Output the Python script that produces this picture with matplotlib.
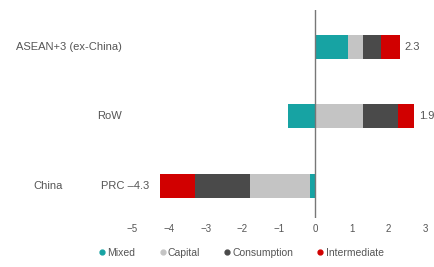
import numpy as np
import matplotlib
matplotlib.use('Agg')
import matplotlib.pyplot as plt
from matplotlib.lines import Line2D

plt.rcParams['font.family'] = ['Liberation Sans', 'DejaVu Sans']
plt.rcParams['axes.unicode_minus'] = True

# datos (de abajo hacia arriba)
regiones = ['PRC', 'RoW', 'ASEAN+3 (ex-China)']
componentes = ['Mixed', 'Capital', 'Consumption', 'Intermediate']
mixed = [-0.15, -0.75, 0.9]
capital = [-1.65, 1.3, 0.4]
consumption = [-1.5, 0.95, 0.5]
intermediate = [-0.95, 0.45, 0.5]
totales = [-4.3, 1.9, 2.3]

colores = ['#17a3a3', '#c4c4c4', '#4a4a4a', '#d10000']
gris_txt = '#555555'

fig = plt.figure(figsize=(4.34, 2.67), dpi=100)
ax = fig.add_axes([0, 0.1835, 1, 0.779])

y = np.arange(len(regiones))
pos = np.zeros(len(regiones))
neg = np.zeros(len(regiones))
for serie, col in zip([mixed, capital, consumption, intermediate], colores):
    v = np.array(serie)
    base = np.where(v >= 0, pos, neg)
    ax.barh(y, v, left=base, height=0.345, color=col, zorder=2)
    pos = pos + np.where(v >= 0, v, 0)
    neg = neg + np.where(v < 0, v, 0)

ax.axvline(0, color='#777777', lw=1.0, zorder=3)

ax.set_xlim(-8.62, 3.24)
ax.set_ylim(-0.46, 2.53)
ax.set_xticks(range(-5, 4))
ax.set_yticks([])
ax.tick_params(axis='x', length=0, pad=4, labelsize=7, labelcolor=gris_txt)
for s in ax.spines.values():
    s.set_visible(False)

# etiquetas de filas
fs = 8
ax.text(-5.3, 2, 'ASEAN+3 (ex-China)', ha='right', va='center', fontsize=fs, color=gris_txt)
ax.text(-5.3, 1, 'RoW', ha='right', va='center', fontsize=fs, color=gris_txt)
ax.text(-7.31, 0, 'China', ha='center', va='center', fontsize=fs, color=gris_txt)

# totales
for i in range(len(regiones)):
    t = totales[i]
    if t >= 0:
        ax.text(pos[i] + 0.12, y[i], f'{t:.1f}', ha='left', va='center', fontsize=fs, color=gris_txt)
    else:
        ax.text(neg[i] - 0.3, y[i], f'{regiones[i]} \u2013{abs(t):.1f}', ha='right', va='center',
                fontsize=fs, color=gris_txt)

handles = [Line2D([], [], marker='o', ls='', color=c, markersize=3.5) for c in colores]
fig.legend(handles, componentes, loc='center', bbox_to_anchor=(0.555, 0.052), ncol=4,
           frameon=False, fontsize=7.5, handletextpad=0.1, columnspacing=2.2,
           labelcolor=gris_txt, handlelength=0.8)

fig.savefig('out.png', dpi=100)
